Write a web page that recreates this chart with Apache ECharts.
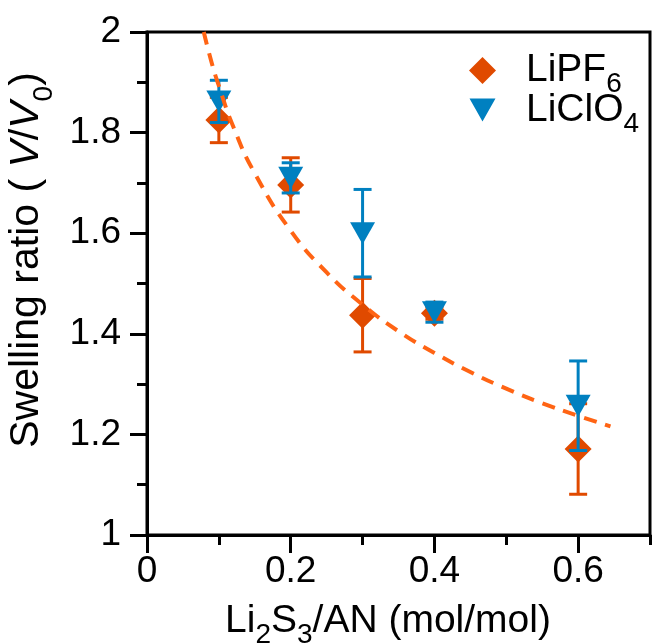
<!DOCTYPE html>
<html>
<head>
<meta charset="utf-8">
<script src="https://cdn.jsdelivr.net/npm/echarts@6/dist/echarts.min.js"></script>
<style>
  html, body { margin: 0; padding: 0; background: #fff; }
  #chart { width: 652px; height: 644px; }
</style>
</head>
<body>
<div id="chart"></div>
<script>
// concentrations (Li2S3/AN, mol/mol)
const xValues = [0.1, 0.2, 0.3, 0.4, 0.6];

// LiPF6 swelling ratio and error
const lipf6 = [1.825, 1.696, 1.437, 1.441, 1.171];
const lipf6Err = [0.045, 0.054, 0.073, 0.012, 0.09];

// LiClO4 swelling ratio and error
const liclo4 = [1.862, 1.710, 1.600, 1.443, 1.257];
const liclo4Err = [0.042, 0.030, 0.087, 0.020, 0.089];

// dashed guide curve
const fitX = [0.079, 0.09, 0.1, 0.12, 0.15, 0.2, 0.25, 0.3, 0.35, 0.4, 0.45, 0.5, 0.55, 0.6, 0.645];
const fitY = [2.0, 1.939, 1.893, 1.812, 1.719, 1.605, 1.522, 1.458, 1.405, 1.362, 1.324, 1.291, 1.262, 1.237, 1.216];

const yTicks = ["1", "1.2", "1.4", "1.6", "1.8", "2"];
const xTicks = ["0", "0.2", "0.4", "0.6"];

const FONT = 'Arial, "Liberation Sans", sans-serif';
const ORANGE = "#e04a00";
const BLUE = "#0080c0";
const CURVE = "#ff6414";

function errorBars(values, errs) {
  return xValues.map((x, i) => [x, values[i], errs[i]]);
}

function renderErr(color) {
  return function (params, api) {
    const x = api.value(0);
    const y = api.value(1);
    const e = api.value(2);
    const top = api.coord([x, y + e]);
    const bot = api.coord([x, y - e]);
    const half = 9;
    const style = { stroke: color, lineWidth: 3 };
    return {
      type: "group",
      children: [
        { type: "line", shape: { x1: top[0], y1: top[1], x2: bot[0], y2: bot[1] }, style },
        { type: "line", shape: { x1: top[0] - half, y1: top[1], x2: top[0] + half, y2: top[1] }, style },
        { type: "line", shape: { x1: bot[0] - half, y1: bot[1], x2: bot[0] + half, y2: bot[1] }, style },
      ],
    };
  };
}

const chart = echarts.init(document.getElementById("chart"), null, { renderer: "canvas" });

const axisLine = { show: true, lineStyle: { color: "#000", width: 3 } };

chart.setOption({
  animation: false,
  backgroundColor: "#fff",
  textStyle: { fontFamily: FONT },
  grid: {
    left: 147,
    right: 2,
    top: 32,
    bottom: 109,
    outerBoundsMode: "none",
    containLabel: false,
    show: true,
    borderColor: "#000",
    borderWidth: 3,
    backgroundColor: "transparent",
  },
  legend: {
    orient: "vertical",
    left: 464,
    top: 46,
    itemWidth: 27,
    itemHeight: 27,
    itemGap: -8,
    selectedMode: false,
    data: [
      { name: "LiPF6", icon: "diamond" },
      { name: "LiClO4", icon: "path://M0,0L25,0L12.5,22ZM12.5,-2L12.5,-2ZM12.5,24L12.5,24Z" },
    ],
    formatter: (name) => {
      const base = name.slice(0, -1);
      const sub = name.slice(-1);
      return "{m|" + base + "}{s|" + sub + "}";
    },
    textStyle: {
      color: "#000",
      fontFamily: FONT,
      fontSize: 39,
      padding: [0, 0, 0, 25],
      rich: {
        m: { fontSize: 39, lineHeight: 56, color: "#000", fontFamily: FONT },
        s: { fontSize: 28, verticalAlign: "bottom", color: "#000", fontFamily: FONT },
      },
    },
  },
  xAxis: [
    {
      type: "value",
      min: 0,
      max: 0.7,
      interval: 0.2,
      axisLine,
      axisTick: { show: true, inside: false, length: 18, lineStyle: { color: "#000", width: 3 } },
      axisLabel: {
        color: "#000",
        fontSize: 37,
        fontFamily: FONT,
        margin: 18,
        showMaxLabel: false,
        formatter: (v) => {
          const i = Math.round(v / 0.2);
          return Math.abs(v - i * 0.2) < 1e-6 && xTicks[i] !== undefined ? xTicks[i] : "";
        },
      },
      splitLine: { show: false },
      name: "{m|Li}{s|2}{m|S}{s|3}{m|/AN (mol/mol)}",
      nameLocation: "middle",
      nameGap: 58,
      nameTextStyle: {
        color: "#000",
        fontFamily: FONT,
        fontSize: 39,
        padding: [0, 21, 0, 0],
        rich: {
          m: { fontSize: 39, lineHeight: 56, color: "#000", fontFamily: FONT },
          s: { fontSize: 28, verticalAlign: "bottom", color: "#000", fontFamily: FONT },
        },
      },
    },
    {
      type: "value",
      min: 0,
      max: 0.7,
      interval: 0.1,
      position: "bottom",
      axisLine,
      axisTick: { show: true, inside: false, length: 10, lineStyle: { color: "#000", width: 3 } },
      axisLabel: { show: false },
      splitLine: { show: false },
    },
  ],
  yAxis: {
    type: "value",
    min: 1,
    max: 2,
    interval: 0.2,
    axisLine,
    axisTick: { show: true, inside: false, length: 17, lineStyle: { color: "#000", width: 3 } },
    minorTick: { show: true, splitNumber: 2, length: 10, lineStyle: { color: "#000", width: 3 } },
    axisLabel: {
      color: "#000",
      fontSize: 37,
      fontFamily: FONT,
      margin: 26,
      formatter: (v) => yTicks[Math.round((v - 1) / 0.2)],
    },
    splitLine: { show: false },
    name: "{m|Swelling ratio ( }{i|V}{m|/}{i|V}{s|0}{m|)}",
    nameLocation: "middle",
    nameGap: 89,
    nameTextStyle: {
      color: "#000",
      fontFamily: FONT,
      fontSize: 41,
      padding: [0, 0, 0, 47],
      rich: {
        m: { fontSize: 41, lineHeight: 62, color: "#000", fontFamily: FONT },
        i: { fontSize: 41, lineHeight: 62, fontStyle: "italic", color: "#000", fontFamily: FONT },
        s: { fontSize: 28, verticalAlign: "bottom", color: "#000", fontFamily: FONT },
      },
    },
  },
  series: [
    {
      name: "LiPF6 err",
      type: "custom",
      xAxisIndex: 0,
      z: 2,
      renderItem: renderErr(ORANGE),
      data: errorBars(lipf6, lipf6Err),
      silent: true,
    },
    {
      name: "LiPF6",
      type: "scatter",
      xAxisIndex: 0,
      z: 3,
      symbol: "diamond",
      symbolSize: 27,
      itemStyle: { color: ORANGE, opacity: 1 },
      data: xValues.map((x, i) => [x, lipf6[i]]),
    },
    {
      name: "LiClO4 err",
      type: "custom",
      xAxisIndex: 0,
      z: 4,
      renderItem: renderErr(BLUE),
      data: errorBars(liclo4, liclo4Err),
      silent: true,
    },
    {
      name: "LiClO4",
      type: "scatter",
      xAxisIndex: 0,
      z: 5,
      symbol: "triangle",
      symbolRotate: 180,
      symbolSize: [25, 22],
      itemStyle: { color: BLUE, opacity: 1 },
      data: xValues.map((x, i) => [x, liclo4[i]]),
    },
    {
      name: "fit",
      type: "line",
      xAxisIndex: 0,
      z: 6,
      smooth: true,
      showSymbol: false,
      symbol: "none",
      clip: true,
      lineStyle: { color: CURVE, width: 4, type: [13, 9], cap: "butt" },
      data: fitX.map((x, i) => [x, fitY[i]]),
    },
  ],
});
</script>
</body>
</html>
